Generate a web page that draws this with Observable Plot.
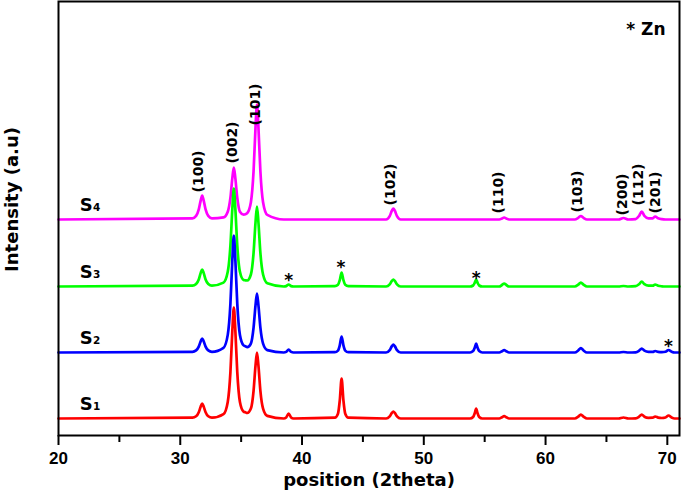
<!DOCTYPE html>
<html>
<head>
<meta charset="utf-8">
<script src="https://cdn.jsdelivr.net/npm/d3@7"></script>
<script src="https://cdn.jsdelivr.net/npm/@observablehq/plot@0.6"></script>
<style>
  html, body { margin: 0; padding: 0; background: #fff; }
  #chart svg { display: block; }
</style>
</head>
<body>
<div id="chart"></div>
<script>
// 2theta sampling positions shared by all series
const twoTheta = [20,
  31.0, 31.3, 31.52, 31.68, 31.8, 31.92, 32.08, 32.3, 32.6,
  33.55, 33.9, 34.12, 34.28, 34.4, 34.52, 34.68, 34.9, 35.2,
  35.35,
  35.5, 35.8, 36.02, 36.18, 36.3, 36.42, 36.58, 36.8, 37.15,
  38.5, 38.7, 38.9, 39.1, 39.3,
  42.7, 42.95, 43.1, 43.25, 43.4, 43.55, 43.8,
  46.9, 47.2, 47.38, 47.5, 47.62, 47.8, 48.1,
  53.8, 54.05, 54.19, 54.3, 54.41, 54.55, 54.8,
  56.2, 56.42, 56.6, 56.78, 57.0,
  62.4, 62.68, 62.9, 63.12, 63.4,
  66.0, 66.4, 66.8,
  67.4, 67.68, 67.9, 68.12, 68.45,
  68.8, 69.0, 69.25, 69.55,
  69.85, 70.1, 70.35, 70.6,
  71];

// intensities above each series' own baseline (a.u.)
const s1 = [0,
  0.8, 2.2, 6.3, 12, 15, 12, 6.3, 2.2, 0.8,
  4.4, 16.6, 46.6, 88.8, 111, 88.8, 46.6, 16.6, 6.9,
  6.2,
  5.5, 9.9, 27.7, 52.8, 66, 52.8, 27.7, 9.9, 2.6,
  0, 1, 5, 1, 0,
  0.8, 4.8, 18, 40, 18, 4.8, 0.8,
  0, 2.1, 5.6, 7, 5.6, 2.1, 0,
  0, 1.5, 5.5, 10, 5.5, 1.5, 0,
  0, 1.2, 2.5, 1.2, 0,
  0, 1.8, 4, 1.8, 0,
  0, 1, 0,
  0.2, 1.8, 4, 1.8, 0.7,
  0.8, 2, 0.9, 0.5,
  1, 3, 1, 0,
  0];
const s2 = [0,
  0.7, 2.1, 5.9, 11.2, 14, 11.2, 5.9, 2.1, 0.7,
  4.7, 17.6, 49.1, 93.6, 117, 93.6, 49.1, 17.6, 7.1,
  6.2,
  5.3, 8.9, 24.8, 47.2, 59, 47.2, 24.8, 8.9, 2.4,
  0, 0.6, 3, 0.6, 0,
  0.3, 1.9, 7.2, 16, 7.2, 1.9, 0.3,
  0, 2.4, 6.4, 8, 6.4, 2.4, 0,
  0, 1.4, 5, 9, 5, 1.4, 0,
  0, 1.2, 2.5, 1.2, 0,
  0, 2, 4.5, 2, 0,
  0, 0.5, 0,
  0.2, 1.8, 4, 1.8, 0.6,
  0.6, 1.5, 0.7, 0.4,
  0.8, 2.5, 0.8, 0,
  0];
const s3 = [0,
  0.9, 2.6, 7.1, 13.6, 17, 13.6, 7.1, 2.6, 0.9,
  3.9, 14.7, 41.2, 78.4, 98, 78.4, 41.2, 14.7, 6.5,
  6.2,
  6, 12, 33.6, 64, 80, 64, 33.6, 12, 3.2,
  0, 0.4, 2, 0.4, 0,
  0.3, 1.7, 6.3, 14, 6.3, 1.7, 0.3,
  0, 2.1, 5.6, 7, 5.6, 2.1, 0,
  0, 1, 3.9, 7, 3.9, 1, 0,
  0, 1.5, 3, 1.5, 0,
  0, 1.8, 4, 1.8, 0,
  0, 0.5, 0,
  0.3, 2.3, 5, 2.3, 0.8,
  0.8, 2, 0.8, 0.2,
  0, 0, 0, 0,
  0];
const s4 = [0,
  1.2, 3.6, 10.1, 19.2, 24, 19.2, 10.1, 3.6, 1.2,
  2.1, 7.8, 21.8, 41.6, 52, 41.6, 21.8, 7.8, 4.9,
  5.2,
  6.3, 17.3, 48.3, 92, 115, 92, 48.3, 17.3, 4.6,
  0, 0, 0, 0, 0,
  0, 0, 0, 0, 0, 0, 0,
  0, 3.3, 8.8, 11, 8.8, 3.3, 0,
  0, 0, 0, 0, 0, 0, 0,
  0, 1, 2, 1, 0,
  0, 1.6, 3.5, 1.6, 0,
  0, 1.5, 0,
  0.4, 3.6, 8, 3.6, 1.2,
  1.2, 3, 1.2, 0.3,
  0, 0, 0, 0,
  0];

const seriesLetter = ["S", "S", "S", "S"];
const seriesIndex = ["1", "2", "3", "4"];
const seriesValues = [s1, s2, s3, s4];
const seriesOffsets = [17, 83, 149, 216];   // vertical stacking offsets (a.u.)
const seriesColors = ["#ff0000", "#0000ff", "#00ff00", "#ff00ff"];

// Miller index labels
const hklLabels = ["(100)", "(002)", "(101)", "(102)", "(110)", "(103)", "(200)", "(112)", "(201)"];
const hklX = [31.5, 34.3, 36.2, 47.25, 56.1, 62.6, 66.3, 67.6, 69.0];
const hklY = [243, 272, 310, 230, 222, 223, 220, 230, 222];

// Zn markers
const znX = [38.9, 43.2, 54.3, 70.1];
const znY = [160, 173, 162, 94];

const majorTicks = [20, 30, 40, 50, 60, 70];
const minorTicks = [25, 35, 45, 55, 65];

// build tidy table
const rows = [];
seriesValues.forEach((vals, si) => {
  vals.forEach((v, i) => rows.push({series: si, x: twoTheta[i], y: v + seriesOffsets[si]}));
});
const sLabels = seriesLetter.map((s, i) => ({s, n: seriesIndex[i], y: seriesOffsets[i]}));
const hkl = hklLabels.map((t, i) => ({t, x: hklX[i], y: hklY[i]}));
const zn = znX.map((x, i) => ({x, y: znY[i]}));

const bold = "DejaVu Sans";
const marks = [];
// draw S4 first so lower series overlay
[3, 2, 1, 0].forEach(si => {
  marks.push(Plot.line(rows.filter(d => d.series === si), {
    x: "x", y: "y", stroke: seriesColors[si], strokeWidth: 2.7, curve: "monotone-x"
  }));
});
marks.push(
  Plot.axisX({ticks: majorTicks, tickSize: 10, tickPadding: 6, strokeWidth: 2, fontSize: 17, fontWeight: "bold",
    fontFamily: "Liberation Sans", label: null, tickFormat: d => String(d)}),
  Plot.axisX({ticks: minorTicks, tickSize: 7, strokeWidth: 2, label: null, tickFormat: () => ""}),
  Plot.frame({stroke: "black", strokeWidth: 2}),
  Plot.text(hkl, {x: "x", y: "y", text: "t", rotate: -90, textAnchor: "start", lineAnchor: "middle",
    fontSize: 14, fontWeight: "bold", fontFamily: bold, fill: "black"}),
  Plot.text(zn, {x: "x", y: "y", text: () => "*", fontSize: 17, fontWeight: "bold", fontFamily: bold, dy: 5, fill: "black"}),
  Plot.text(sLabels, {x: () => 22.8, y: "y", text: "s", textAnchor: "end", lineAnchor: "bottom", dy: -9,
    fontSize: 18, fontWeight: "bold", fontFamily: bold, fill: "black"}),
  Plot.text(sLabels, {x: () => 22.8, y: "y", text: "n", textAnchor: "start", lineAnchor: "bottom", dx: 0.5, dy: -9,
    fontSize: 10.5, fontWeight: "bold", fontFamily: bold, fill: "black"}),
  Plot.text(["* Zn"], {frameAnchor: "top-right", text: d => d, textAnchor: "end", dx: -14, dy: 21,
    fontSize: 17, fontWeight: "bold", fontFamily: bold, fill: "black"}),
  Plot.text(["position (2theta)"], {frameAnchor: "bottom", text: d => d, textAnchor: "middle", dy: 50,
    fontSize: 18, fontWeight: "bold", fontFamily: bold, fill: "black"}),
  Plot.text(["Intensity (a.u)"], {frameAnchor: "left", text: d => d, rotate: -90, textAnchor: "middle", dx: -46, dy: -19,
    fontSize: 18, fontWeight: "bold", fontFamily: bold, fill: "black"})
);

const chart = Plot.plot({
  width: 685,
  height: 496,
  marginTop: 1,
  marginRight: 6,
  marginBottom: 61,
  marginLeft: 58,
  style: {background: "#fff", color: "black", overflow: "visible"},
  x: {domain: [20, 71], axis: null},
  y: {domain: [0, 434], axis: null},
  marks
});
document.getElementById("chart").appendChild(chart);
</script>
</body>
</html>
